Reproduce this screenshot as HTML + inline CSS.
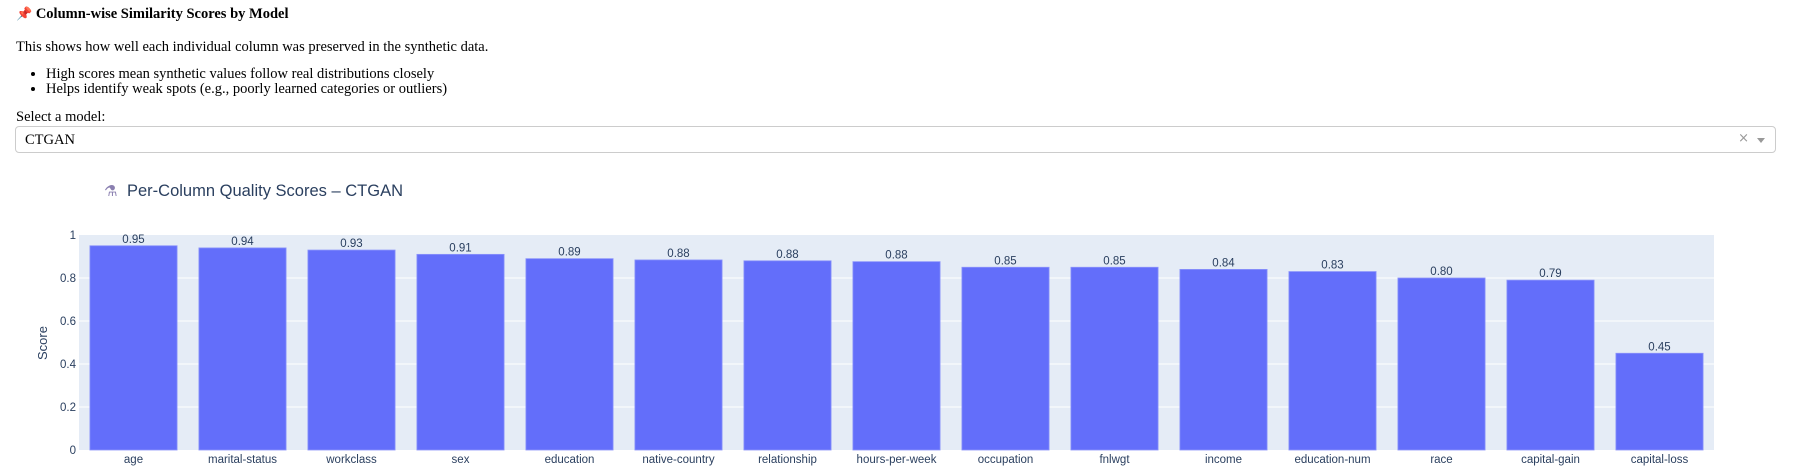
<!DOCTYPE html>
<html><head><meta charset="utf-8">
<style>
body{margin:0;width:1793px;height:466px;background:#fff;font-family:"Liberation Serif",serif;color:#000;overflow:hidden;position:relative}
.abs{position:absolute;white-space:nowrap}
</style></head><body>
<div class="abs" style="left:16px;top:6px;font-size:14.5px;font-weight:bold"><span style="color:#d33;font-family:'DejaVu Sans',sans-serif;font-size:13px">📌</span> Column-wise Similarity Scores by Model</div>
<div class="abs" style="left:16px;top:39px;font-size:14.5px">This shows how well each individual column was preserved in the synthetic data.</div>
<ul style="position:absolute;left:0;top:67px;margin:0;padding-left:46px;font-size:14.5px;line-height:15px">
<li>High scores mean synthetic values follow real distributions closely</li>
<li>Helps identify weak spots (e.g., poorly learned categories or outliers)</li>
</ul>
<div class="abs" style="left:16px;top:109px;font-size:14.5px">Select a model:</div>
<div style="position:absolute;left:15px;top:126px;width:1761px;height:27px;border:1px solid #ccc;border-radius:4px;box-sizing:border-box">
<span class="abs" style="left:9px;top:5px;font-size:14.5px">CTGAN</span>
<span class="abs" style="right:26px;top:4px;font-size:13px;color:#999;font-family:'DejaVu Sans',sans-serif">×</span>
<span class="abs" style="right:10px;top:11px;width:0;height:0;border-left:4px solid transparent;border-right:4px solid transparent;border-top:5px solid #999"></span>
</div>
<svg id="chart" width="1793" height="466" style="position:absolute;left:0;top:0" font-family="'Liberation Sans',sans-serif">
<text x="104" y="196" font-size="15" fill="#8a7fb0" font-family="'DejaVu Sans',sans-serif">⚗</text>
<text x="127" y="196" font-size="16.5" fill="#2a3f5f">Per-Column Quality Scores – CTGAN</text>
<rect x="79" y="235" width="1635" height="215" fill="#e5ecf6"/>
<g id="grid"></g><g id="bars"></g><g id="labels"></g>
<text transform="translate(47,343) rotate(-90)" text-anchor="middle" font-size="13" fill="#2a3f5f">Score</text>
</svg>
<script>
const categories=["age","marital-status","workclass","sex","education","native-country","relationship","hours-per-week","occupation","fnlwgt","income","education-num","race","capital-gain","capital-loss"];
const values=[0.95,0.94,0.93,0.91,0.89,0.884,0.880,0.876,0.85,0.85,0.84,0.83,0.80,0.79,0.45];
const yTicks=[0,0.2,0.4,0.6,0.8,1];
const tickLabels=["0","0.2","0.4","0.6","0.8","1"];
const NS="http://www.w3.org/2000/svg";
const L=79,R=1714,T=235,B=450;
const y=v=>B-(v/1)*(B-T);
const band=(R-L)/categories.length;
const x=i=>L+i*band;
function mk(tag,attrs,parent){const e=document.createElementNS(NS,tag);for(const k in attrs)e.setAttribute(k,attrs[k]);document.getElementById(parent).appendChild(e);return e;}
yTicks.forEach((t,i)=>{
  if(t>0&&t<1){const g=mk('line',{x1:L,x2:R,y1:y(t),y2:y(t),stroke:'#fff','stroke-width':1},'grid');
  
  }
  const tl=mk('text',{x:L-3,y:y(t)+4,'text-anchor':'end','font-size':11.5,fill:'#2a3f5f'},'labels');
  tl.textContent=tickLabels[i];
  
  
});
categories.forEach((c,i)=>{
  const w=band*0.8,bx=x(i)+band*0.1;
  const r=mk('rect',{x:bx,y:y(values[i]),width:w,height:B-y(values[i]),fill:'#636efa',stroke:'#8c94fb','stroke-width':0.8},'bars');
  
  
  const v=mk('text',{x:x(i)+band/2,y:y(values[i])-3,'text-anchor':'middle','font-size':11.5,fill:'#2a3f5f'},'labels');
  v.textContent=values[i].toFixed(2);
  
  
  const xl=mk('text',{x:x(i)+band/2,y:463,'text-anchor':'middle','font-size':11.5,fill:'#2a3f5f'},'labels');
  xl.textContent=c;
  
  
});
</script>
</body></html>
